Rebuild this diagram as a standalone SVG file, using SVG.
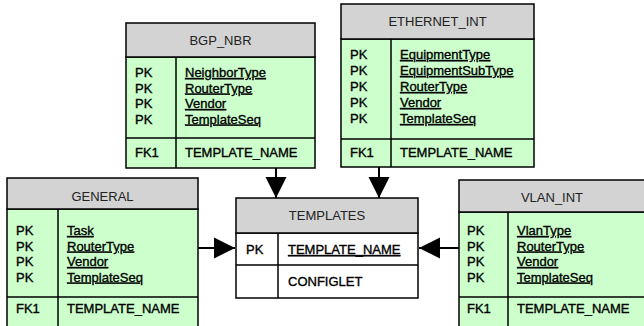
<svg xmlns="http://www.w3.org/2000/svg" width="644" height="326" viewBox="0 0 644 326">
<defs>
<style>
.hd{fill:#d3d3d3;stroke:#000;stroke-width:1.5}
.bd{fill:#ccffcc;stroke:#000;stroke-width:1.5}
.wb{fill:#ffffff;stroke:#000;stroke-width:1.5}
.ln{stroke:#000;stroke-width:1.5;fill:none}
text{font-family:"Liberation Sans",Arial,sans-serif;font-size:13px;fill:#000}
.t{fill:#222;text-anchor:middle}
.b{stroke:#000;stroke-width:0.35}
.u{text-decoration:underline}
.cn{stroke:#000;stroke-width:2;fill:none;marker-end:url(#ah)}
</style>
<marker id="ah" markerUnits="userSpaceOnUse" markerWidth="22" markerHeight="22" refX="21" refY="10.5" orient="auto" viewBox="0 0 22 21">
<path d="M0,0 L21,10.5 L0,21 Z" fill="#000"/>
</marker>
</defs>

<g id="connectors">
<line class="cn" x1="276" y1="168" x2="276" y2="198"/>
<line class="cn" x1="379" y1="167" x2="379" y2="198"/>
<line class="cn" x1="198" y1="248" x2="235" y2="248"/>
<line class="cn" x1="459" y1="248" x2="419" y2="248"/>
</g>

<g id="bgp_nbr">
<rect class="bd" x="126" y="57" width="189" height="111"/>
<rect class="hd" x="126" y="23" width="189" height="34"/>
<line class="ln" x1="176" y1="57" x2="176" y2="168"/>
<line class="ln" x1="126" y1="138" x2="315" y2="138"/>
<text class="t" x="220.5" y="45">BGP_NBR</text>
<text class="b" x="135" y="77">PK</text>
<text class="b" x="135" y="92.5">PK</text>
<text class="b" x="135" y="108">PK</text>
<text class="b" x="135" y="123.5">PK</text>
<text class="b u" x="185" y="77">NeighborType</text>
<text class="b u" x="185" y="92.5">RouterType</text>
<text class="b u" x="185" y="108">Vendor</text>
<text class="b u" x="185" y="123.5">TemplateSeq</text>
<text class="b" x="135" y="157">FK1</text>
<text class="b" x="185" y="157">TEMPLATE_NAME</text>
</g>

<g id="ethernet_int">
<rect class="bd" x="341" y="39" width="193" height="128"/>
<rect class="hd" x="341" y="4" width="193" height="35"/>
<line class="ln" x1="391" y1="39" x2="391" y2="167"/>
<line class="ln" x1="341" y1="139" x2="534" y2="139"/>
<text class="t" x="437.5" y="26">ETHERNET_INT</text>
<text class="b" x="350" y="59">PK</text>
<text class="b" x="350" y="75">PK</text>
<text class="b" x="350" y="91">PK</text>
<text class="b" x="350" y="107">PK</text>
<text class="b" x="350" y="123">PK</text>
<text class="b u" x="400" y="59">EquipmentType</text>
<text class="b u" x="400" y="75">EquipmentSubType</text>
<text class="b u" x="400" y="91">RouterType</text>
<text class="b u" x="400" y="107">Vendor</text>
<text class="b u" x="400" y="123">TemplateSeq</text>
<text class="b" x="350" y="157">FK1</text>
<text class="b" x="400" y="157">TEMPLATE_NAME</text>
</g>

<g id="general">
<rect class="bd" x="7" y="209" width="191" height="125"/>
<rect class="hd" x="7" y="178" width="191" height="31"/>
<line class="ln" x1="58" y1="209" x2="58" y2="334"/>
<line class="ln" x1="7" y1="297" x2="198" y2="297"/>
<text class="t" x="102.5" y="201">GENERAL</text>
<text class="b" x="16" y="235">PK</text>
<text class="b" x="16" y="250.5">PK</text>
<text class="b" x="16" y="266">PK</text>
<text class="b" x="16" y="281.5">PK</text>
<text class="b u" x="67" y="235">Task</text>
<text class="b u" x="67" y="250.5">RouterType</text>
<text class="b u" x="67" y="266">Vendor</text>
<text class="b u" x="67" y="281.5">TemplateSeq</text>
<text class="b" x="16" y="313">FK1</text>
<text class="b" x="67" y="313">TEMPLATE_NAME</text>
</g>

<g id="templates">
<rect class="wb" x="236" y="233" width="182" height="65"/>
<rect class="hd" x="236" y="198" width="182" height="35"/>
<line class="ln" x1="278" y1="233" x2="278" y2="298"/>
<line class="ln" x1="236" y1="265" x2="418" y2="265"/>
<text class="t" x="327" y="220">TEMPLATES</text>
<text class="b" x="246" y="254">PK</text>
<text class="b u" x="288" y="254">TEMPLATE_NAME</text>
<text class="b" x="288" y="286">CONFIGLET</text>
</g>

<g id="vlan_int">
<rect class="bd" x="459" y="212" width="190" height="122"/>
<rect class="hd" x="459" y="180" width="190" height="32"/>
<line class="ln" x1="508" y1="212" x2="508" y2="334"/>
<line class="ln" x1="459" y1="297" x2="649" y2="297"/>
<text class="t" x="552" y="202">VLAN_INT</text>
<text class="b" x="467" y="235">PK</text>
<text class="b" x="467" y="250.5">PK</text>
<text class="b" x="467" y="266">PK</text>
<text class="b" x="467" y="281.5">PK</text>
<text class="b u" x="517" y="235">VlanType</text>
<text class="b u" x="517" y="250.5">RouterType</text>
<text class="b u" x="517" y="266">Vendor</text>
<text class="b u" x="517" y="281.5">TemplateSeq</text>
<text class="b" x="467" y="313">FK1</text>
<text class="b" x="517" y="313">TEMPLATE_NAME</text>
</g>
</svg>
